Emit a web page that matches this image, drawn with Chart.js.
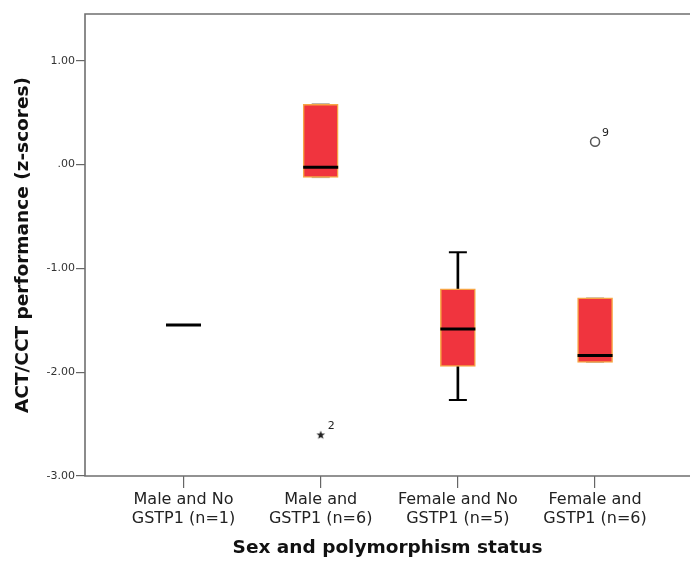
<!DOCTYPE html>
<html>
<head>
<meta charset="utf-8">
<script src="https://cdn.jsdelivr.net/npm/chart.js@4/dist/chart.umd.min.js"></script>
<style>
  html, body { margin: 0; padding: 0; background: #fff; }
  #wrap { width: 690px; height: 562px; position: relative; }
</style>
</head>
<body>
<div id="wrap"><canvas id="c" width="690" height="562"></canvas></div>
<script>
// ---- data ----
const categories = [
  ["Male and No", "GSTP1 (n=1)"],
  ["Male and", "GSTP1 (n=6)"],
  ["Female and No", "GSTP1 (n=5)"],
  ["Female and", "GSTP1 (n=6)"]
];
const q1Values      = [-1.546, -0.125, -1.944, -1.905];
const medianValues  = [-1.546, -0.026, -1.584, -1.840];
const q3Values      = [-1.546,  0.580, -1.198, -1.285];
const whiskerLow    = [-1.546, -0.125, -2.268, -1.905];
const whiskerHigh   = [-1.546,  0.586, -0.845, -1.285];
const outlierCats   = [2, 4];
const outlierValues = [-2.606, 0.220];
const outlierLabels = ["2", "9"];
const yTickValues   = [1, 0, -1, -2, -3];

const positions = categories.map((_, i) => i + 1);
const hasBox = positions.map((_, i) => q3Values[i] !== q1Values[i]);
const hiExt = positions.map((_, i) => whiskerHigh[i] > q3Values[i] + 0.02);
const loExt = positions.map((_, i) => whiskerLow[i] < q1Values[i] - 0.02);

const boxData = positions.map((x, i) => hasBox[i] ? { x, y: [q1Values[i], q3Values[i]] } : null).filter(Boolean);
const upperWhisker = positions.map((x, i) => hiExt[i] ? { x, y: [q3Values[i], whiskerHigh[i]] } : null).filter(Boolean);
const lowerWhisker = positions.map((x, i) => loExt[i] ? { x, y: [whiskerLow[i], q1Values[i]] } : null).filter(Boolean);
const capsHigh = positions.map((x, i) => hasBox[i] ? { x, y: whiskerHigh[i], ext: hiExt[i] } : null).filter(Boolean);
const capsLow  = positions.map((x, i) => hasBox[i] ? { x, y: whiskerLow[i], ext: loExt[i] } : null).filter(Boolean);
const medianData = positions.map((x, i) => ({ x, y: medianValues[i] }));
const outlierData = outlierCats.map((c, i) => ({ x: c, y: outlierValues[i], label: outlierLabels[i] }));

const FONT = "'DejaVu Sans', 'Liberation Sans', sans-serif";

// filled 5-point star marker (SPSS extreme value)
function makeStar(size) {
  const cv = document.createElement('canvas');
  cv.width = size; cv.height = size;
  const c = cv.getContext('2d');
  const cx = size / 2, cy = size / 2, R = size / 2 - 0.5, r = R * 0.42;
  c.beginPath();
  for (let k = 0; k < 10; k++) {
    const ang = -Math.PI / 2 + k * Math.PI / 5;
    const rad = k % 2 === 0 ? R : r;
    const px = cx + rad * Math.cos(ang), py = cy + rad * Math.sin(ang);
    k === 0 ? c.moveTo(px, py) : c.lineTo(px, py);
  }
  c.closePath();
  c.fillStyle = '#222';
  c.fill();
  return cv;
}
const starImg = makeStar(10);

const framePlugin = {
  id: 'frame',
  beforeDatasetsDraw(chart) {
    const { ctx, chartArea: a } = chart;
    ctx.save();
    ctx.strokeStyle = '#6f6f6f';
    ctx.lineWidth = 1.6;
    ctx.beginPath();
    ctx.rect(a.left, a.top, a.right - a.left + 5, a.bottom - a.top);
    ctx.stroke();
    ctx.restore();
  }
};

const outlierLabelPlugin = {
  id: 'outlierLabels',
  afterDatasetsDraw(chart) {
    const { ctx } = chart;
    const xs = chart.scales.x, ys = chart.scales.y;
    ctx.save();
    ctx.fillStyle = '#222';
    ctx.font = '11px ' + FONT;
    ctx.textAlign = 'left';
    ctx.textBaseline = 'middle';
    outlierData.forEach(p => {
      ctx.fillText(p.label, xs.getPixelForValue(p.x) + 7, ys.getPixelForValue(p.y) - 9);
    });
    ctx.restore();
  }
};

const capColor = (ctx) => (ctx.raw && ctx.raw.ext) ? '#000' : 'rgba(120,110,90,0.55)';
const capWidth = (ctx) => (ctx.raw && ctx.raw.ext) ? 2 : 1.2;

new Chart(document.getElementById('c'), {
  type: 'bar',
  data: {
    datasets: [
      {
        type: 'scatter', label: 'outliers', data: outlierData,
        pointStyle: [starImg, 'circle'], pointRadius: [5, 4.5],
        borderColor: ['#222', '#555'], backgroundColor: ['#222', '#fff'], borderWidth: [0, 1.5],
        order: 0
      },
      {
        type: 'scatter', label: 'median', data: medianData,
        pointStyle: 'line', pointRadius: 17.5, borderColor: '#000', borderWidth: 3,
        order: 1
      },
      {
        label: 'box', data: boxData, grouped: false, barThickness: 35,
        backgroundColor: '#F0343E', borderColor: '#F7A545', borderWidth: 1.5, borderSkipped: false,
        order: 2
      },
      {
        type: 'scatter', label: 'capHigh', data: capsHigh,
        pointStyle: 'line', pointRadius: 9, borderColor: capColor, borderWidth: capWidth,
        order: 3
      },
      {
        type: 'scatter', label: 'capLow', data: capsLow,
        pointStyle: 'line', pointRadius: 9, borderColor: capColor, borderWidth: capWidth,
        order: 3
      },
      {
        label: 'whiskerHigh', data: upperWhisker, grouped: false, barThickness: 2,
        backgroundColor: '#000', borderWidth: 0, order: 4
      },
      {
        label: 'whiskerLow', data: lowerWhisker, grouped: false, barThickness: 2,
        backgroundColor: '#000', borderWidth: 0, order: 4
      }
    ]
  },
  options: {
    responsive: false,
    animation: false,
    layout: { autoPadding: false, padding: { left: 0, right: 0, top: 14, bottom: 0 } },
    plugins: { legend: { display: false }, tooltip: { enabled: false } },
    elements: { point: { hoverRadius: 0 } },
    scales: {
      x: {
        type: 'linear', min: 0.282, max: 4.692, offset: false,
        afterFit(s) { s.height = 86; s.paddingLeft = 0; s.paddingRight = 0; },
        afterBuildTicks(s) { s.ticks = positions.map(v => ({ value: v })); },
        border: { display: false },
        grid: { offset: false, drawOnChartArea: false, color: '#666', lineWidth: 1.2, tickLength: 12 },
        ticks: {
          autoSkip: false, maxRotation: 0, padding: 3, color: '#222',
          font: { family: FONT, size: 16, lineHeight: 1.15 },
          callback: (v) => categories[Math.round(v) - 1] || ''
        },
        title: {
          display: true, text: 'Sex and polymorphism status', color: '#111',
          font: { family: FONT, size: 18.5, weight: 'bold' }, padding: { top: 0, bottom: 3 }
        }
      },
      y: {
        min: -3, max: 1.45,
        afterFit(s) { s.width = 85; s.paddingTop = 0; s.paddingBottom = 0; },
        afterBuildTicks(s) { s.ticks = yTickValues.map(v => ({ value: v })); },
        border: { display: false },
        grid: { drawOnChartArea: false, color: '#666', lineWidth: 1.2, tickLength: 9 },
        ticks: {
          padding: 1, color: '#333',
          font: { family: FONT, size: 11 },
          callback: (v) => v === 0 ? '.00' : v.toFixed(2)
        },
        title: {
          display: true, text: 'ACT/CCT performance (z-scores)', color: '#111',
          font: { family: FONT, size: 18.5, weight: 'bold' }, padding: { top: 12, bottom: 0 }
        }
      }
    }
  },
  plugins: [framePlugin, outlierLabelPlugin]
});
</script>
</body>
</html>
